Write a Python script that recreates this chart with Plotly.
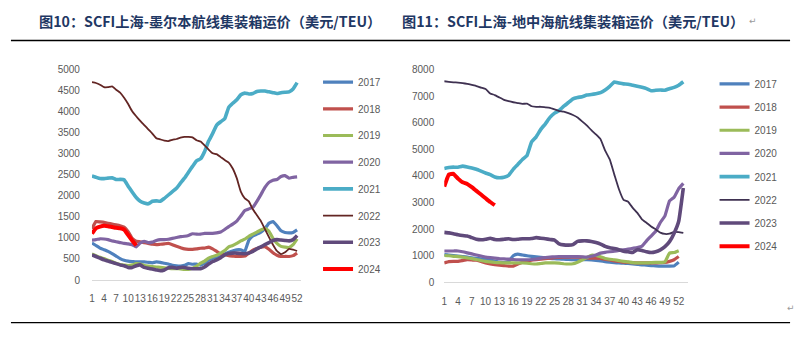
import plotly.graph_objects as go

W, H = 803, 338

years = ["2017", "2018", "2019", "2020", "2021", "2022", "2023", "2024"]
tick_weeks = list(range(1, 53, 3))

# 图10 上海-墨尔本
mel_2017 = [880,820,760,720,680,630,570,510,470,450, 440,430,430,430,420,410,430,420,400,380,
            350,335,330,350,390,375,380,355,400,470, 520,540,560,620,660,690,720,720,680,950,
            1050,1090,1140,1220,1350,1390,1290,1170,1130,1120, 1130,1190]
mel_2018 = [1220,1390,1380,1370,1350,1330,1310,1290,1260,1150, 990,920,910,890,870,850,840,850,860,870,
            840,800,770,740,730,730,740,755,760,780, 740,680,620,600,580,570,560,560,570,640,
            710,750,780,790,730,650,590,560,560,560, 580,640]
mel_2019 = [620,580,540,510,470,440,400,370,355,345, 360,390,380,345,330,320,310,300,290,280,
            270,270,265,255,255,280,330,400,450,520, 560,590,640,700,790,820,870,930,970,1040,
            1090,1140,1190,1230,1160,990,870,800,780,775, 840,980]
mel_2020 = [950,960,980,975,960,930,910,890,870,860, 840,790,880,920,890,900,940,960,960,970,
            990,1010,1030,1040,1060,1100,1090,1090,1110,1110, 1110,1120,1140,1200,1270,1330,1400,1520,1650,1690,
            1730,1870,2030,2200,2320,2370,2390,2460,2480,2420, 2440,2450]
mel_2021 = [2470,2440,2410,2410,2420,2430,2390,2390,2380,2230, 2090,1960,1870,1830,1810,1870,1880,1870,1940,2020,
            2100,2180,2300,2420,2560,2700,2830,2880,3050,3300, 3480,3680,3760,3830,4100,4200,4280,4400,4440,4420,
            4430,4480,4490,4490,4470,4450,4430,4450,4460,4470, 4540,4690]
mel_2022 = [4700,4680,4640,4580,4580,4600,4520,4450,4330,4180, 4010,3890,3780,3680,3580,3480,3370,3340,3310,3300,
            3330,3350,3380,3400,3400,3390,3320,3290,3200,3100, 3010,2990,2920,2850,2790,2650,2420,2100,1940,1870,
            1680,1540,1400,1210,1020,840,690,615,660,740, 720,690]
mel_2023 = [600,560,520,480,450,420,390,360,340,300, 300,340,360,300,280,260,240,220,240,290,
            300,280,300,300,280,270,270,270,310,380, 440,480,530,600,630,640,640,630,625,640,
            680,740,790,840,890,940,960,950,940,930, 960,1060]
mel_2024 = [1100,1230,1270,1290,1280,1260,1240,1230,1200,1070,940,820]

# 图11 上海-地中海
med_2017 = [1040,1030,1010,990,970,950,920,900,880,860, 830,800,760,740,790,1000,1060,1030,1000,980,
            960,940,920,900,890,880,870,860,850,850, 850,850,840,830,810,780,760,740,730,720,
            710,690,680,660,650,630,620,610,610,610, 620,760]
med_2018 = [730,780,790,790,820,850,840,830,790,730, 690,670,650,630,610,610,690,760,800,830,
            850,870,890,910,930,940,950,950,950,950, 940,920,910,910,900,870,840,810,790,760,
            750,740,730,730,730,730,730,740,750,790, 850,970]
med_2019 = [1010,1000,980,970,950,920,890,860,820,790, 770,750,740,730,730,730,730,730,720,700,
            690,710,730,730,730,720,700,690,700,760, 840,930,1020,1010,960,900,870,850,820,790,
            770,740,730,730,730,740,750,750,770,1100, 1120,1190]
med_2020 = [1180,1180,1180,1180,1150,1110,1070,1030,990,950, 930,910,890,880,870,860,850,850,850,860,
            880,910,930,950,960,970,970,970,970,970, 960,950,980,1030,1100,1130,1150,1170,1200,1220,
            1250,1280,1310,1360,1560,1740,1920,2250,2500,3060, 3200,3520,3720]
med_2021 = [4280,4320,4330,4330,4370,4340,4300,4250,4180,4110, 4050,3960,3930,3950,4020,4250,4430,4620,4770,5280,
            5470,5750,5960,6200,6360,6460,6620,6760,6900,6950, 6980,7040,7060,7090,7130,7230,7370,7530,7490,7460,
            7450,7410,7370,7330,7280,7200,7220,7230,7220,7280, 7330,7410,7540]
med_2022 = [7560,7540,7520,7510,7490,7460,7420,7380,7320,7270, 7100,7040,6950,6860,6810,6770,6740,6710,6720,6620,
            6600,6600,6580,6560,6500,6440,6420,6360,6290,6200, 6050,5900,5720,5560,5380,4950,4620,4050,3500,3100,
            3030,2800,2610,2370,2240,2100,1990,1870,1820,1830, 1900,1890,1860]
med_2023 = [1880,1860,1830,1790,1760,1740,1680,1620,1600,1620, 1660,1610,1600,1620,1640,1610,1620,1640,1640,1650,
            1680,1660,1640,1610,1590,1450,1410,1400,1420,1540, 1560,1560,1540,1500,1440,1350,1300,1270,1230,1170,
            1150,1120,1230,1200,1150,1120,1150,1220,1340,1530, 1850,2300,3550]
med_2024 = [3600,4050,4080,3900,3760,3700,3580,3440,3300,3160,3020,2900]

mel = [mel_2017, mel_2018, mel_2019, mel_2020, mel_2021, mel_2022, mel_2023, mel_2024]
med = [med_2017, med_2018, med_2019, med_2020, med_2021, med_2022, med_2023, med_2024]

col_common = ["#4F81BD", "#C0504D", "#9BBB59", "#8064A2", "#4BACC6", None, "#604A7B", "#FF0000"]
col_2022_mel = "#632523"
col_2022_med = "#3F3151"
widths = [3.2, 3.2, 3.2, 3.2, 3.6, 1.8, 3.6, 4.0]

fig = go.Figure()

def add_series(data, xa, ya, legend, c2022, suffix):
    for i, (yr, vals) in enumerate(zip(years, data)):
        c = col_common[i] if col_common[i] else c2022
        fig.add_trace(go.Scatter(
            x=list(range(1, len(vals) + 1)), y=vals, mode="lines", name=yr,
            line=dict(color=c, width=widths[i], shape="spline", smoothing=0.3),
            xaxis=xa, yaxis=ya, legend=legend, legendgroup=yr + suffix,
            hoverinfo="skip"))

add_series(mel, "x", "y", "legend", col_2022_mel, "a")
add_series(med, "x2", "y2", "legend2", col_2022_med, "b")

tick_font = dict(family="Liberation Sans, Arial, sans-serif", size=10, color="#595959")

def px_x(p):
    return p / W

def px_y(p):
    return 1 - p / H

axis_common = dict(showgrid=False, zeroline=False, ticks="", tickfont=tick_font, fixedrange=True)

fig.update_layout(
    width=W, height=H,
    margin=dict(l=0, r=0, t=0, b=0),
    paper_bgcolor="white", plot_bgcolor="rgba(0,0,0,0)",
    showlegend=True,
    xaxis=dict(domain=[px_x(89.5), px_x(300.0)], range=[1, 53], tickvals=tick_weeks,
               ticktext=[str(t) for t in tick_weeks], tickangle=0, showline=True,
               linecolor="#D9D9D9", linewidth=1, anchor="y", ticklabelstandoff=9, **axis_common),
    yaxis=dict(domain=[px_y(284.3), px_y(66.7)], range=[0, 5000], dtick=500, showline=False,
               anchor="x", ticklabelstandoff=11, **axis_common),
    xaxis2=dict(domain=[px_x(444), px_x(689.2)], range=[1, 54], tickvals=tick_weeks,
                ticktext=[str(t) for t in tick_weeks], tickangle=0, showline=True,
                linecolor="#D9D9D9", linewidth=1, anchor="y2", ticklabelstandoff=10, **axis_common),
    yaxis2=dict(domain=[px_y(286.7), px_y(66.7)], range=[0, 8000], dtick=1000, showline=False,
                anchor="x2", ticklabelstandoff=9, **axis_common),
    legend=dict(x=px_x(317), y=px_y(64.7), xanchor="left", yanchor="top",
                bgcolor="rgba(0,0,0,0)", borderwidth=0, tracegroupgap=7.7,
                font=dict(family="Liberation Sans, Arial, sans-serif", size=10, color="#595959"),
                itemclick=False, itemdoubleclick=False),
    legend2=dict(x=px_x(716), y=px_y(66.5), xanchor="left", yanchor="top",
                 bgcolor="rgba(0,0,0,0)", borderwidth=0, tracegroupgap=4.2,
                 font=dict(family="Liberation Sans, Arial, sans-serif", size=10, color="#595959"),
                 itemclick=False, itemdoubleclick=False),
)

title_font = dict(family="Noto Sans CJK SC, sans-serif", size=14.2, color="#1F3864")
fig.add_annotation(text="<b>图10：SCFI上海-墨尔本航线集装箱运价（美元/TEU）</b>",
                   x=px_x(34), y=px_y(17), xref="paper", yref="paper",
                   xanchor="left", yanchor="middle", showarrow=False, font=title_font)
fig.add_annotation(text="<b>图11：SCFI上海-地中海航线集装箱运价（美元/TEU）</b>",
                   x=px_x(399), y=px_y(17), xref="paper", yref="paper",
                   xanchor="left", yanchor="middle", showarrow=False, font=title_font)
for (ax, ay) in [(755, 17), (793, 313)]:
    fig.add_annotation(text="↵", x=px_x(ax), y=px_y(ay), xref="paper", yref="paper",
                       xanchor="center", yanchor="middle", showarrow=False,
                       font=dict(family="DejaVu Sans", size=9, color="#9A9A9A"))

for yy in [36.7, 328.3]:
    fig.add_shape(type="line", xref="paper", yref="paper",
                  x0=px_x(8), x1=px_x(792), y0=px_y(yy), y1=px_y(yy),
                  line=dict(color="black", width=1.3))

fig.write_html("out.html")
